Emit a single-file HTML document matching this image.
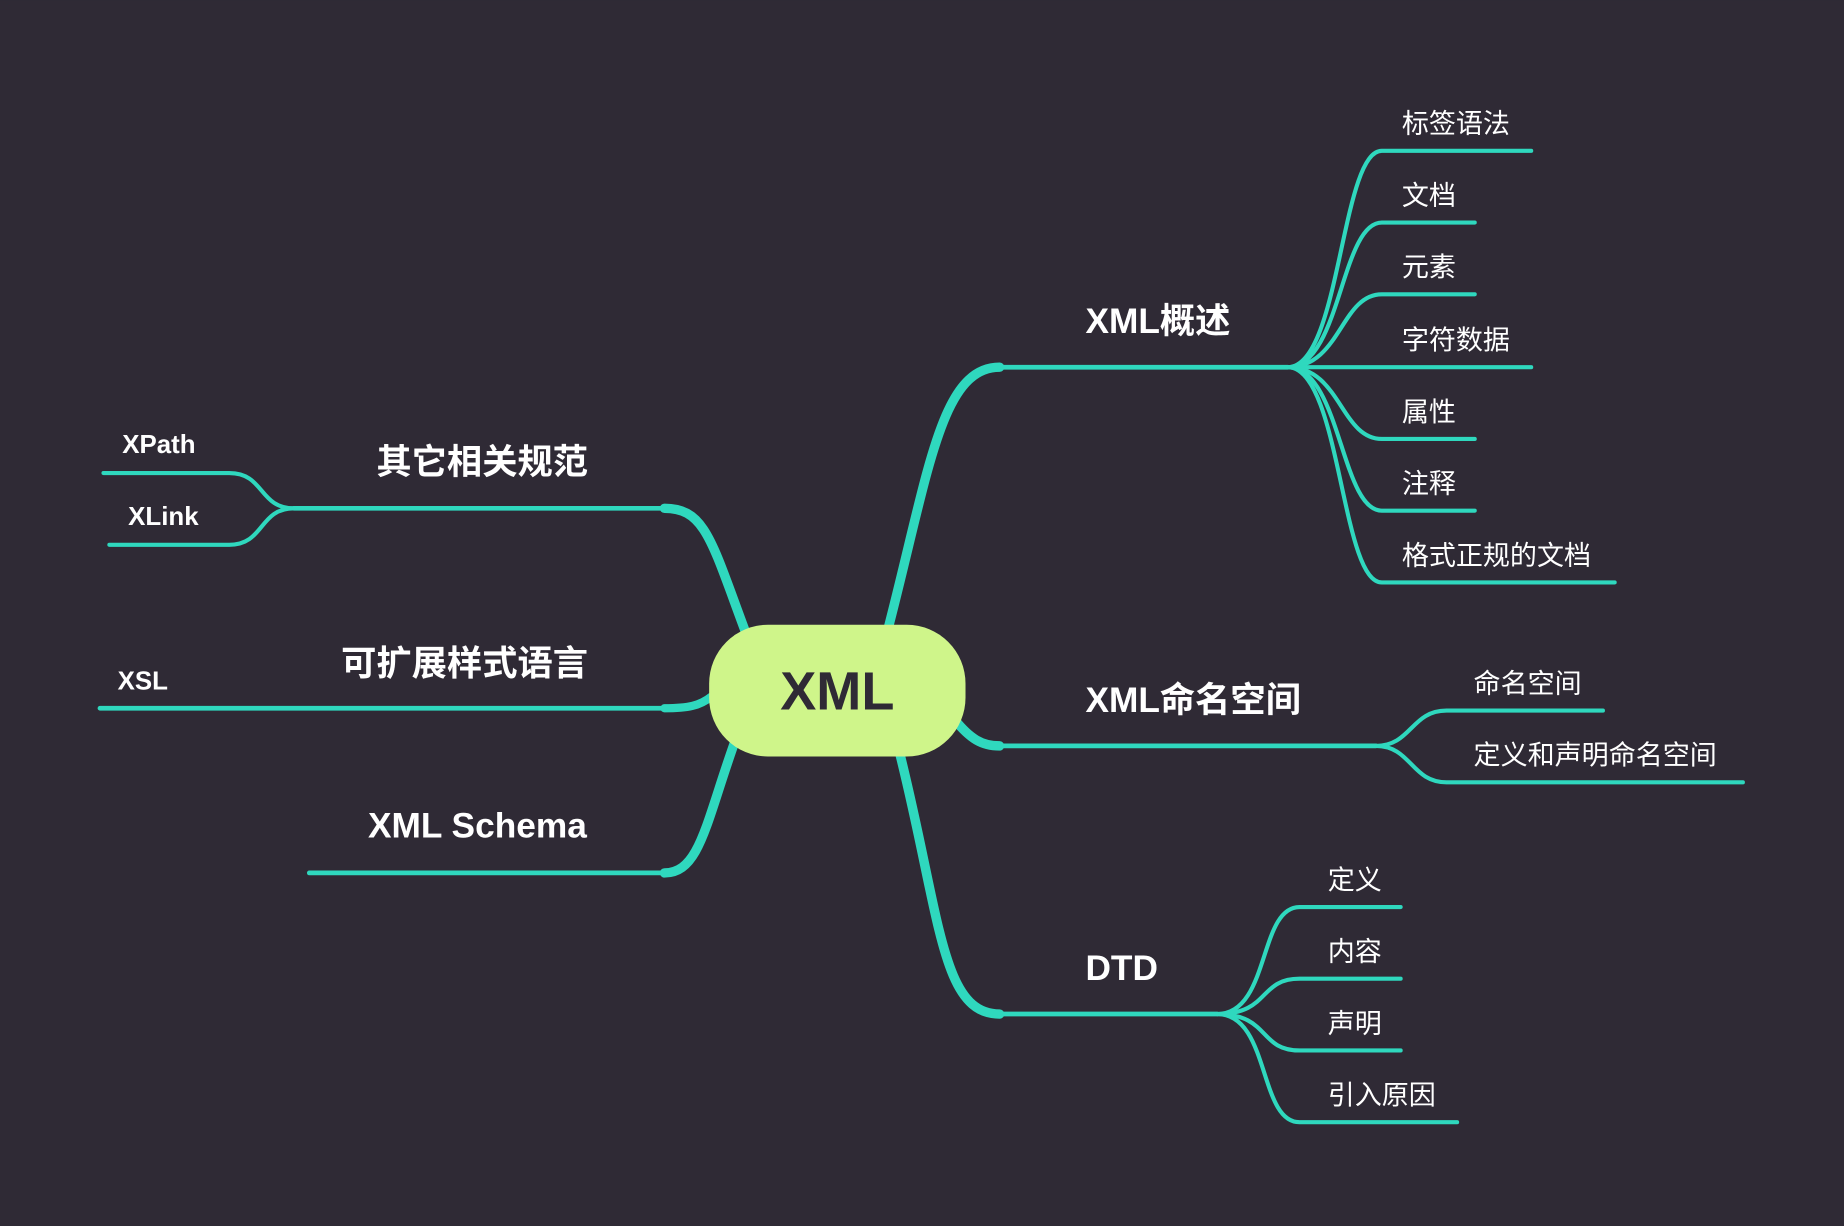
<!DOCTYPE html>
<html><head><meta charset="utf-8"><style>
html,body{margin:0;padding:0;background:#2f2a35;}
svg{display:block}
text{font-family:"Liberation Sans","Noto Sans CJK SC",sans-serif;fill:#fff;font-weight:bold}
.c{font-weight:normal}
</style></head><body>
<svg width="1844" height="1226" viewBox="0 0 1568 1042" xmlns="http://www.w3.org/2000/svg">
<rect width="1568" height="1042" fill="#2f2a35"/>
<g fill="none" stroke="#2fd8be" stroke-linecap="round">
<!-- main branches -->
<path d="M755 535 C790 400 800 312 850 312" stroke-width="8"/>
<path d="M850 312 L1095 312" stroke-width="4"/>
<path d="M812 612 C825 628 835 634 850 634" stroke-width="8"/>
<path d="M850 634 L1170 634" stroke-width="4"/>
<path d="M765 640 C800 780 800 862 850 862" stroke-width="8"/>
<path d="M850 862 L1035 862" stroke-width="4"/>
<path d="M635 540 C605 460 600 432 565 432" stroke-width="8"/>
<path d="M565 432 L250 432" stroke-width="4"/>
<path d="M605 592 C595 600 585 602 565 602" stroke-width="7"/>
<path d="M565 602 L85 602" stroke-width="4"/>
<path d="M625 630 C600 700 595 742 565 742" stroke-width="8"/>
<path d="M565 742 L263 742" stroke-width="4"/>
<!-- XML概述 children -->
<g stroke-width="3.5">
<path d="M1095 312 C1140 312 1140 128 1175 128 L1302 128"/>
<path d="M1095 312 C1140 312 1140 189 1175 189 L1254 189"/>
<path d="M1095 312 C1140 312 1140 250 1175 250 L1254 250"/>
<path d="M1095 312 L1302 312"/>
<path d="M1095 312 C1140 312 1140 373 1175 373 L1254 373"/>
<path d="M1095 312 C1140 312 1140 434 1175 434 L1254 434"/>
<path d="M1095 312 C1140 312 1140 495 1175 495 L1373 495"/>
<!-- 命名空间 children -->
<path d="M1170 634 C1200 634 1200 604 1230 604 L1363 604"/>
<path d="M1170 634 C1200 634 1200 665 1230 665 L1482 665"/>
<!-- DTD children -->
<path d="M1035 862 C1080 862 1070 771 1105 771 L1191 771"/>
<path d="M1035 862 C1080 862 1070 832 1105 832 L1191 832"/>
<path d="M1035 862 C1080 862 1070 893 1105 893 L1191 893"/>
<path d="M1035 862 C1080 862 1070 954 1105 954 L1239 954"/>
<!-- left children -->
<path d="M250 432 C220 432 225 402 195 402 L88 402"/>
<path d="M250 432 C220 432 225 463 195 463 L93 463"/>
</g>
</g>
<rect x="603" y="531" width="218" height="112" rx="50" fill="#cff58a"/>
<text x="712" y="603" text-anchor="middle" font-size="46" style="fill:#2f2a35">XML</text>
<g font-size="30">
<text x="923" y="283">XML概述</text>
<text x="923" y="605">XML命名空间</text>
<text x="923" y="833">DTD</text>
<text x="500" y="403" text-anchor="end">其它相关规范</text>
<text x="500" y="574" text-anchor="end">可扩展样式语言</text>
<text x="499" y="712" text-anchor="end">XML Schema</text>
</g>
<g font-size="23" class="c">
<text class="c" x="1192" y="113">标签语法</text>
<text class="c" x="1192" y="174">文档</text>
<text class="c" x="1192" y="235">元素</text>
<text class="c" x="1192" y="297">字符数据</text>
<text class="c" x="1192" y="358">属性</text>
<text class="c" x="1192" y="419">注释</text>
<text class="c" x="1192" y="480">格式正规的文档</text>
<text class="c" x="1253" y="589">命名空间</text>
<text class="c" x="1253" y="650">定义和声明命名空间</text>
<text class="c" x="1129" y="756">定义</text>
<text class="c" x="1129" y="817">内容</text>
<text class="c" x="1129" y="878">声明</text>
<text class="c" x="1129" y="939">引入原因</text>
</g>
<g font-size="22">
<text x="104" y="385">XPath</text>
<text x="109" y="446">XLink</text>
<text x="100" y="586">XSL</text>
</g>
</svg>
</body></html>
